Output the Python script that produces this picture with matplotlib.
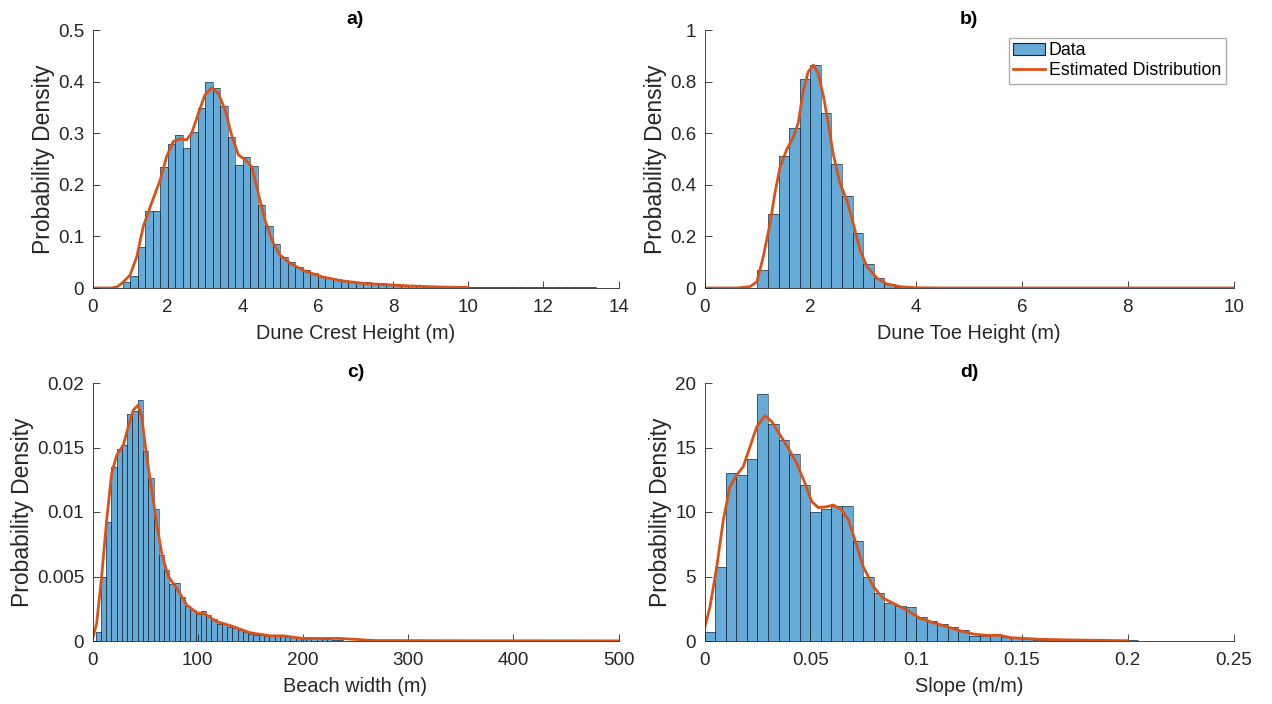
import numpy as np
import matplotlib
matplotlib.use("Agg")
from matplotlib import pyplot as plt
from matplotlib.ticker import FuncFormatter
from matplotlib.patches import Patch

plt.rcParams["font.family"] = ["Liberation Sans", "DejaVu Sans"]

# ---- a) dune crest height: bin start/width + densities ----
crest_start, crest_width = 0.8, 0.2
crest_dens = [0.012, 0.024, 0.079, 0.149, 0.149, 0.235, 0.280, 0.297, 0.272, 0.302,
              0.348, 0.399, 0.387, 0.352, 0.292, 0.239, 0.253, 0.236, 0.161, 0.121,
              0.085, 0.061, 0.051, 0.041, 0.034, 0.030, 0.024, 0.020, 0.017, 0.016,
              0.014, 0.012, 0.011, 0.010, 0.009, 0.008, 0.007, 0.006, 0.005, 0.004,
              0.004, 0.003, 0.003, 0.002, 0.002, 0.002, 0.001, 0.001, 0.001, 0.001,
              0.001, 0.001, 0.001, 0.001, 0.001, 0.001, 0.001, 0.001, 0.001, 0.001,
              0.001, 0.001, 0.001]
crest_x = [0, 0.5, 0.65, 0.78, 1.0, 1.18, 1.35, 1.57, 1.8, 1.97, 2.15, 2.33, 2.5, 2.64,
           2.82, 2.99, 3.17, 3.35, 3.53, 3.7, 3.88, 4.06, 4.24, 4.41, 4.59, 4.77, 4.99,
           5.26, 5.61, 6.14, 6.67, 7.2, 7.92, 8.45, 9.2, 10.0]
crest_y = [0, 0.0, 0.002, 0.009, 0.025, 0.061, 0.119, 0.164, 0.209, 0.254, 0.284, 0.289,
           0.287, 0.300, 0.339, 0.374, 0.388, 0.377, 0.345, 0.297, 0.258, 0.249, 0.235,
           0.184, 0.132, 0.093, 0.064, 0.048, 0.034, 0.021, 0.0136, 0.009, 0.006, 0.004,
           0.002, 0.001]

# ---- b) dune toe height ----
toe_start, toe_width = 1.0, 0.2
toe_dens = [0.070, 0.286, 0.512, 0.619, 0.810, 0.864, 0.677, 0.479, 0.357, 0.214,
            0.092, 0.037, 0.014, 0.003]
toe_x = [0, 0.6, 0.86, 0.99, 1.11, 1.24, 1.33, 1.43, 1.55, 1.68, 1.77, 1.87, 1.96, 2.06,
         2.15, 2.25, 2.34, 2.43, 2.56, 2.69, 2.81, 2.94, 3.07, 3.26, 3.44, 3.7, 4.0, 4.5, 10.0]
toe_y = [0, 0, 0.005, 0.024, 0.121, 0.251, 0.367, 0.470, 0.535, 0.586, 0.638, 0.767,
         0.838, 0.864, 0.832, 0.741, 0.638, 0.522, 0.406, 0.341, 0.251, 0.147, 0.083,
         0.038, 0.016, 0.005, 0.001, 0, 0]

# ---- c) beach width ----
beach_start, beach_width = 3.0, 5.0
beach_dens = [0.00067, 0.0050, 0.0092, 0.0135, 0.0149, 0.0152, 0.0176, 0.0178, 0.0187,
              0.0147, 0.0126, 0.0102, 0.0067, 0.0055, 0.0044, 0.0045, 0.0034, 0.0027,
              0.0024, 0.0021, 0.0023, 0.0020, 0.0017, 0.0013, 0.0013, 0.0011, 0.0010,
              0.00085, 0.0007, 0.00054, 0.00047, 0.00043, 0.0004, 0.00037, 0.0004,
              0.00037, 0.00032, 0.0003, 0.0003, 0.00026, 0.00025, 0.0002, 0.0002,
              0.00018, 0.00015, 0.0001, 0.00008]
beach_x = [0, 4, 8.7, 13.5, 18.2, 23, 29.3, 34, 38.8, 43.5, 46.7, 51.5, 56.3, 61, 65.8,
           72, 80, 89.5, 99, 107, 118, 130.7, 149.7, 168.7, 181, 200, 235, 267, 350, 500]
beach_y = [0.0001, 0.0014, 0.0050, 0.0094, 0.0130, 0.0144, 0.0152, 0.0166, 0.0179,
           0.0183, 0.0174, 0.0143, 0.0117, 0.0091, 0.0068, 0.0050, 0.0041, 0.0028,
           0.0022, 0.0021, 0.0015, 0.0012, 0.00064, 0.0004, 0.0004, 0.0002, 0.0002,
           0.00004, 0.00002, 0.00001]

# ---- d) slope ----
slope_start, slope_width = 0.0, 0.005
slope_dens = [0.67, 5.76, 13.0, 12.9, 14.1, 19.15, 16.8, 15.6, 14.5, 12.1, 10.0, 10.2,
              10.5, 10.5, 7.75, 5.0, 3.7, 2.92, 2.74, 2.61, 1.89, 1.55, 1.29, 1.06, 0.88,
              0.39, 0.39, 0.45, 0.3, 0.2, 0.12, 0.08, 0.06, 0.05, 0.04, 0.03, 0.03, 0.02,
              0.02, 0.01, 0.04, 0.0, 0.0, 0.0, 0.02, 0.0, 0.01, 0.01, 0.01]
slope_x = [0, 0.0026, 0.0058, 0.0089, 0.012, 0.0152, 0.0183, 0.0215, 0.0247, 0.0286,
           0.0318, 0.0357, 0.0396, 0.0436, 0.0475, 0.0507, 0.0538, 0.0577, 0.0609,
           0.0648, 0.068, 0.0711, 0.075, 0.0798, 0.0845, 0.0908, 0.0956, 0.1018, 0.1081,
           0.1145, 0.1207, 0.127, 0.1334, 0.1397, 0.1444, 0.1585, 0.174, 0.2]
slope_y = [0.98, 2.66, 5.76, 9.38, 11.96, 12.87, 13.51, 15.06, 16.61, 17.47, 17.0, 15.97,
           14.94, 13.78, 12.22, 10.8, 10.33, 10.41, 10.54, 10.16, 9.38, 7.83, 5.76, 4.21,
           3.31, 2.79, 2.4, 1.76, 1.42, 1.11, 0.8, 0.54, 0.44, 0.44, 0.26, 0.13, 0.08, 0.02]

panels = [
    ("a)", "Dune Crest Height (m)", crest_start, crest_width, crest_dens, crest_x, crest_y,
     (0, 14), np.arange(0, 15, 2), (0, 0.5), np.arange(0, 0.51, 0.1)),
    ("b)", "Dune Toe Height (m)", toe_start, toe_width, toe_dens, toe_x, toe_y,
     (0, 10), np.arange(0, 11, 2), (0, 1), np.arange(0, 1.01, 0.2)),
    ("c)", "Beach width (m)", beach_start, beach_width, beach_dens, beach_x, beach_y,
     (0, 500), np.arange(0, 501, 100), (0, 0.02), np.arange(0, 0.0201, 0.005)),
    ("d)", "Slope (m/m)", slope_start, slope_width, slope_dens, slope_x, slope_y,
     (0, 0.25), np.arange(0, 0.251, 0.05), (0, 20), np.arange(0, 21, 5)),
]

# axes boxes in pixels (left, top, right, bottom) on 1272x704
boxes = [(92.5, 30, 618.6, 288), (704.5, 30, 1233.6, 288),
         (92.5, 383, 618.6, 641), (704.5, 383, 1233.6, 641)]

W, H = 1272, 704
fig = plt.figure(figsize=(W / 100, H / 100), dpi=100)

bar_color = (0.0, 0.447, 0.741)
edge_color = (0.1, 0.15, 0.2)
line_color = (0.85, 0.325, 0.098)
axis_color = (0.15, 0.15, 0.15)
fmt = FuncFormatter(lambda v, p: "%g" % round(v, 6))

for (title, xlabel, start, width, dens, lx, ly, xlim, xt, ylim, yt), (l, t, r, b) in zip(panels, boxes):
    ax = fig.add_axes([l / W, 1 - b / H, (r - l) / W, (b - t) / H])
    edges = start + np.arange(len(dens)) * width
    ax.bar(edges, dens, width=width, align="edge", color=bar_color, alpha=0.6,
           edgecolor="none")
    ax.bar(edges, dens, width=width, align="edge", color="none",
           edgecolor=edge_color, linewidth=0.6, alpha=0.7)
    line, = ax.plot(lx, ly, color=line_color, linewidth=2)
    ax.set_xlim(xlim)
    ax.set_ylim(ylim)
    ax.set_xticks(xt)
    ax.set_yticks(yt)
    ax.xaxis.set_major_formatter(fmt)
    ax.yaxis.set_major_formatter(fmt)
    for s in ["top", "right"]:
        ax.spines[s].set_visible(False)
    for s in ["left", "bottom"]:
        ax.spines[s].set_color(axis_color)
        ax.spines[s].set_linewidth(0.6)
    ax.tick_params(direction="in", length=5, width=0.6, colors=axis_color,
                   labelsize=13.5, labelcolor=axis_color)
    ax.tick_params(axis="x", pad=8)
    ax.tick_params(axis="y", pad=6)
    ax.set_xlabel(xlabel, fontsize=14.3, color=axis_color, labelpad=6)
    ax.set_ylabel("Probability Density", fontsize=16.5, color=axis_color, labelpad=2)
    ax.set_title(title, fontsize=14, fontweight="bold", pad=4)
    if title == "b)":
        data_patch = Patch(facecolor=(0.4, 0.668, 0.845), edgecolor=edge_color,
                           linewidth=0.8)
        ax.legend([data_patch, line], ["Data", "Estimated Distribution"],
                  loc="upper right", fontsize=12.8, frameon=True, fancybox=False,
                  edgecolor=(0.6, 0.6, 0.6), borderpad=0.25, handlelength=1.8,
                  handletextpad=0.2, labelspacing=0.15, borderaxespad=0.45)

fig.savefig("out.png", dpi=100)
